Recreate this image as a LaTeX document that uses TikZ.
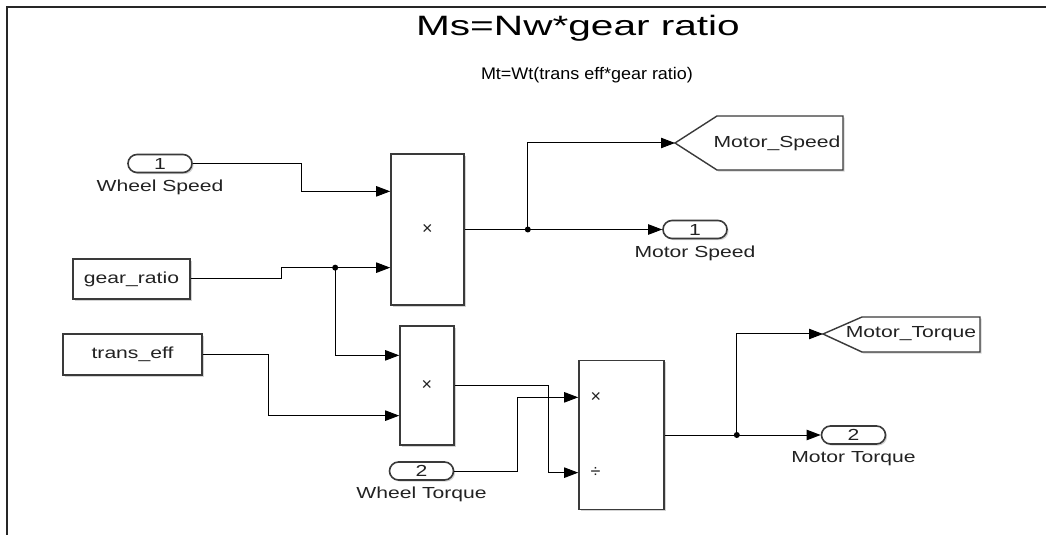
\documentclass[tikz,border=0pt]{standalone}
\usepackage{fontspec}
\setmainfont{Liberation Sans}
\usetikzlibrary{arrows.meta,positioning,calc,shadows}
\definecolor{sledge}{HTML}{3A3A3A}
\definecolor{sltext}{HTML}{222222}
\newcommand{\wide}[2][1.32]{\scalebox{#1}[1]{#2}}

\begin{document}
\begin{tikzpicture}[x=0.5pt,y=-0.5pt,
  font=\fontsize{8}{9.5}\selectfont,
  blk/.style={draw=sledge,line width=0.8pt,fill=white,inner sep=0pt,text=sltext,
    drop shadow={shadow xshift=0.8pt,shadow yshift=-0.8pt,opacity=0.35}},
  port/.style={blk,rounded corners=4.5pt,minimum width=32pt,minimum height=9pt},
  tag/.style={draw=sledge,line width=0.7pt,fill=white,
    drop shadow={shadow xshift=0.8pt,shadow yshift=-0.8pt,opacity=0.35}},
  lbl/.style={inner sep=0.5pt,text=sltext},
  wire/.style={line width=0.5pt},
  arr/.style={wire,-{Triangle[length=7pt,width=5.2pt]}}]
  \useasboundingbox (0,0) rectangle (1046,535);
  \draw[line width=1pt,draw=black!85] (7,535) -- (7,7) -- (1046,7);
  \node[font=\fontsize{14}{16}\selectfont] (title) at (578,28) {\wide[1.45]{Ms=Nw*gear ratio}};
  \node[font=\fontsize{8.4}{10}\selectfont] (sub) at (587,75) {\wide[1.07]{Mt=Wt(trans eff*gear ratio)}};
  % sources
  \node[port] (in1) at (160,163.5) {\wide{1}};
  \node[lbl,below=2.5pt of in1] (in1lbl) {\wide{Wheel Speed}};
  \node[blk,minimum width=58.5pt,minimum height=20pt] (gear) at (131.5,279) {\wide{gear\_ratio}};
  \node[blk,minimum width=69.5pt,minimum height=20.5pt] (trans) at (132.5,354.5) {\wide{trans\_eff}};
  \node[port] (in2) at (421.5,471) {\wide{2}};
  \node[lbl,below=2.5pt of in2] (in2lbl) {\wide{Wheel Torque}};
  % products
  \node[blk,minimum width=36.5pt,minimum height=75.5pt,font=\fontsize{9}{10}\selectfont] (prod1) at (427.5,229.5) {×};
  \node[blk,minimum width=27pt,minimum height=59.5pt,font=\fontsize{9}{10}\selectfont] (prod2) at (427,385.5) {×};
  \node[blk,minimum width=42.5pt,minimum height=74.5pt] (div) at (621.5,435) {};
  \coordinate (p1a) at ($(prod1.north west)!.25!(prod1.south west)$);
  \coordinate (p1b) at ($(prod1.north west)!.75!(prod1.south west)$);
  \coordinate (p2a) at ($(prod2.north west)!.25!(prod2.south west)$);
  \coordinate (p2b) at ($(prod2.north west)!.75!(prod2.south west)$);
  \coordinate (p3a) at ($(div.north west)!.25!(div.south west)$);
  \coordinate (p3b) at ($(div.north west)!.75!(div.south west)$);
  \node[lbl,right=5.5pt of p3a,font=\fontsize{9}{10}\selectfont] (mulsign) {×};
  \node[lbl,right=5.5pt of p3b,font=\fontsize{9}{10}\selectfont] (divsign) {÷};
  % sinks
  \node[port] (out1) at (695,229.5) {\wide{1}};
  \node[lbl,below=2.5pt of out1] (out1lbl) {\wide{Motor Speed}};
  \node[port] (out2) at (853.5,435) {\wide{2}};
  \node[lbl,below=2.5pt of out2] (out2lbl) {\wide{Motor Torque}};
  \coordinate (tipS) at (675,143);
  \coordinate (tipT) at (823,334);
  \draw[tag] (tipS) -- (717,116) -- (843,116) -- (843,170) -- (717,170) -- cycle;
  \node[lbl] (gotoS) at (777,143) {\wide{Motor\_Speed}};
  \draw[tag] (tipT) -- (862,317) -- (980,317) -- (980,352) -- (862,352) -- cycle;
  \node[lbl] (gotoT) at (911,334) {\wide{Motor\_Torque}};
  % wires
  \draw[arr] (in1.east) -- ++(109,0) |- (p1a);
  \draw[arr] (gear.east) -- ++(91,0) |- (p1b);
  \path (p1b) ++(-55,0) coordinate (j2);
  \draw[arr] (j2) |- (p2a);
  \draw[arr] (trans.east) -- ++(66,0) |- (p2b);
  \draw[arr] (prod2.east) -- ++(94,0) |- (p3b);
  \draw[arr] (in2.east) -- ++(63,0) |- (p3a);
  \path (prod1.east) ++(63,0) coordinate (j1);
  \draw[wire] (prod1.east) -- (j1);
  \draw[arr] (j1) -- (out1.west);
  \draw[arr] (j1) |- (tipS);
  \path (div.east) ++(72,0) coordinate (j3);
  \draw[wire] (div.east) -- (j3);
  \draw[arr] (j3) -- (out2.west);
  \draw[arr] (j3) |- (tipT);
  \foreach \j in {j1,j2,j3}
    \fill (\j) circle (3);
\end{tikzpicture}
\end{document}
